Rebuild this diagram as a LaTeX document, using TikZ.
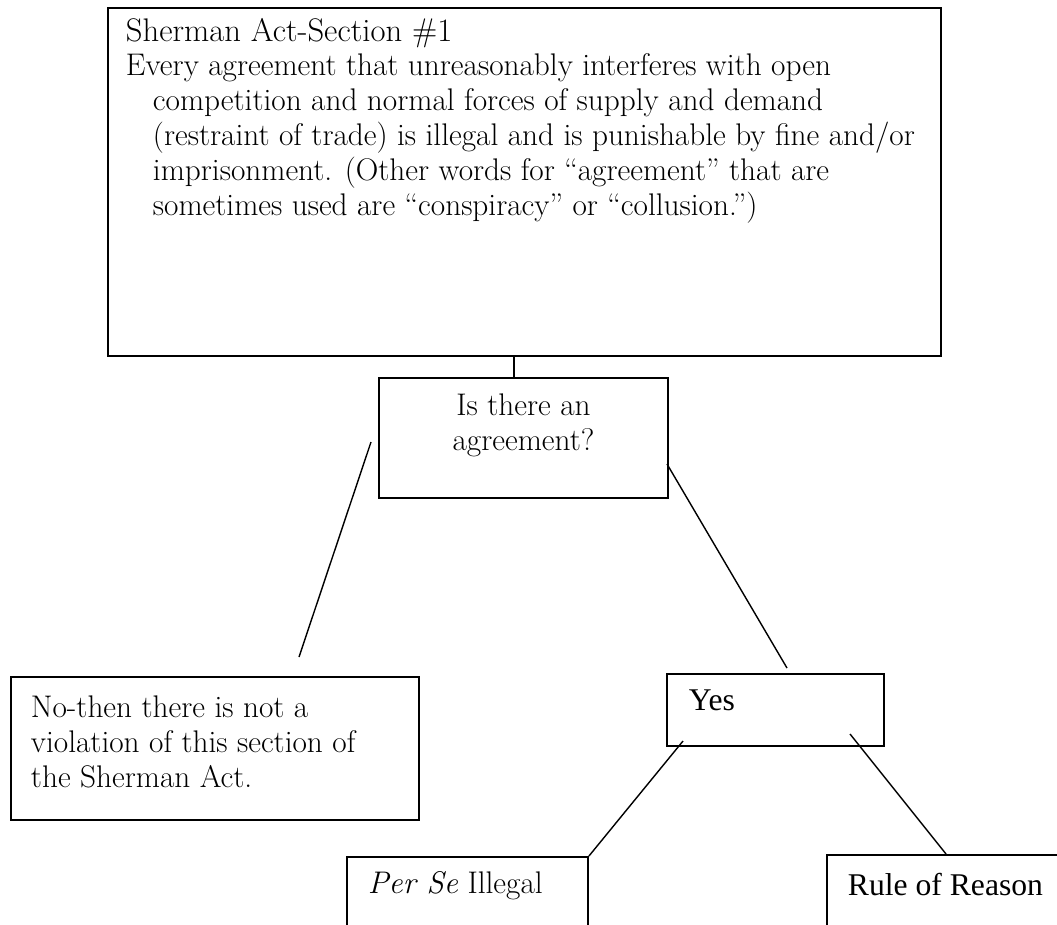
\documentclass[tikz,border=0pt]{standalone}
\usepackage{fontspec}
\newfontfamily\timesfont{Liberation Serif}
\usetikzlibrary{positioning}
\newlength\U
\setlength\U{0.02cm}
\newcommand\bodysize{\fontsize{17.8}{19.8}\selectfont}
\newcommand\titlesize{\fontsize{18.6}{21.5}\selectfont}
\newcommand\timessize{\timesfont\fontsize{18}{21}\selectfont}
\newcommand\inbox[3]{\parbox[c][#2\U][t]{#1\U}{#3}}
\tikzset{
  panel/.style={draw, line width=1.1pt, anchor=north west, inner xsep=20\U, inner ysep=12\U},
  link/.style={line width=0.8pt}
}

\begin{document}
\begin{tikzpicture}[x=0.02cm, y=-0.02cm]
\useasboundingbox (0,0) rectangle (1057,924);
\clip (0,0) rectangle (1057,924);

\node[panel, inner xsep=18\U, inner ysep=10\U] (act) at (107,7) {\inbox{797}{328}{\raggedright
  {\titlesize Sherman Act-Section \#1\par}
  \bodysize\hangindent=27\U\hangafter=1
  Every agreement that unreasonably interferes with open\newline
  competition and normal forces of supply and demand\newline
  (restraint of trade) is illegal and is punishable by fine and/or\newline
  imprisonment. (Other words for “agreement” that are\newline
  sometimes used are “conspiracy” or “collusion.”)\par}};

\node[panel, inner xsep=10\U, inner ysep=16\U] (agree) at (378,377)
  {\inbox{269}{88}{\centering\bodysize Is there an\\ agreement?\par}};

\node[panel, inner xsep=22\U, inner ysep=16\U] (yes) at (666,673)
  {\inbox{173}{40}{\timessize Yes}};

\node[panel, inner ysep=19\U] (no) at (10,676) {\inbox{368}{105}{\raggedright\bodysize
  No-then there is not a\\ violation of this section of\\ the Sherman Act.\par}};

\node[panel, inner xsep=21\U, inner ysep=14\U] (perse) at (346,856)
  {\inbox{199}{92}{\bodysize\textit{Per Se} Illegal}};

\node[panel, inner xsep=21\U, inner ysep=18\U] (rule) at (826,854)
  {\inbox{218}{84}{\timessize Rule of Reason}};

\coordinate (stem) at (514,355);
\coordinate (agreeL) at (371,442);
\coordinate (noTop) at (299,657);
\coordinate (agreeR) at (667,464);
\coordinate (yesTop) at (787,668);
\coordinate (yesL) at (683,741);
\coordinate (yesR) at (850,734);
\coordinate (ruleTop) at (946,854);

\draw[link] (stem) -- (stem |- agree.north);
\draw[link] (agreeL) -- (noTop);
\draw[link] (agreeR) -- (yesTop);
\draw[link] (yesL) -- (perse.north east);
\draw[link] (yesR) -- (ruleTop);
\end{tikzpicture}
\end{document}
